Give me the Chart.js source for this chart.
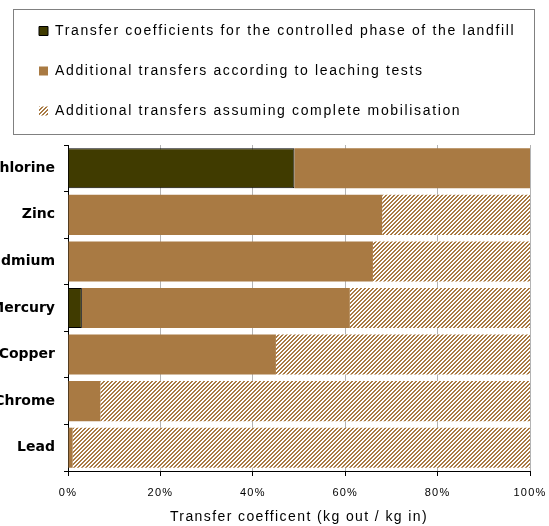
<!DOCTYPE html>
<html>
<head>
<meta charset="utf-8">
<script src="https://cdn.jsdelivr.net/npm/chart.js@4.4.0/dist/chart.umd.min.js"></script>
<style>
    html, body { margin: 0; padding: 0; background: #fff; }
    #frame { position: relative; width: 549px; height: 526px; overflow: hidden; }
    #wrap { position: absolute; left: -80px; top: 0; width: 629px; height: 526px; }
</style>
</head>
<body>
<div id="frame"><div id="wrap"><canvas id="transferChart"></canvas></div></div>
<script>
const elements = ['Chlorine', 'Zinc', 'Cadmium', 'Mercury', 'Copper', 'Chrome', 'Lead'];
const controlledPhase = [49, 0, 0, 3, 0, 0, 0];
const leachingTests = [51, 68, 66, 58, 45, 7, 1];
const completeMobilisation = [0, 32, 34, 39, 55, 93, 99];
const xTicks = [0, 20, 40, 60, 80, 100];

const seriesLabels = [
    'Transfer coefficients for the controlled phase of the landfill',
    'Additional transfers according to leaching tests',
    'Additional transfers assuming complete mobilisation'
];

const darkOlive = '#403b00';
const brown = '#a97a43';

// diagonal hatch like the old excel fill
function makeHatch() {
    const c = document.createElement('canvas');
    c.width = 4;
    c.height = 4;
    const g = c.getContext('2d');
    g.fillStyle = '#ffffff';
    g.fillRect(0, 0, 4, 4);
    g.fillStyle = brown;
    for (let y = 0; y < 4; y++) {
        for (let x = 0; x < 4; x++) {
            const k = (x + y) % 4;
            if (k === 0 || k === 1) g.fillRect(x, y, 1, 1);
        }
    }
    return g.createPattern(c, 'repeat');
}

// run a draw method with some letter spacing (the original text is wide)
function spaced(obj, name, spacing) {
    if (!obj || obj['_sp_' + name]) return;
    const orig = obj[name].bind(obj);
    obj[name] = function(...args) {
        const ctx = obj.ctx;
        const prev = ctx.letterSpacing;
        ctx.letterSpacing = spacing;
        orig(...args);
        ctx.letterSpacing = prev || '0px';
    };
    obj['_sp_' + name] = true;
}

const textTweaks = {
    id: 'textTweaks',
    beforeLayout(chart) {
        const l = chart.legend;
        if (l && !l._fitPatched) {
            const fit = l.fit.bind(l);
            l.fit = function() {
                fit();
                this.height = 147;
            };
            l._fitPatched = true;
        }
    },
    afterLayout(chart) {
        const y = chart.scales.y;
        // category names run off the left edge like in the original, don't clip them to the axis box
        y._computeLabelArea = () => ({ top: 0, left: 0, bottom: chart.height, right: y.right });
        spaced(chart.legend, 'draw', '1.65px');
        spaced(chart.scales.x, 'drawLabels', '1.2px');
        spaced(chart.scales.x, 'drawTitle', '1.4px');
    },
    afterDraw(chart) {
        const ctx = chart.ctx;
        const l = chart.legend;
        ctx.save();
        ctx.strokeStyle = '#808080';
        ctx.lineWidth = 1;
        ctx.strokeRect(l.left + 0.5, 9.5, 521, 125);
        ctx.restore();
    }
};

document.addEventListener('DOMContentLoaded', () => {
    const ctx = document.getElementById('transferChart').getContext('2d');
    const hatch = makeHatch();

    new Chart(ctx, {
        type: 'bar',
        data: {
            labels: elements,
            datasets: [{
                label: seriesLabels[0],
                data: controlledPhase,
                backgroundColor: darkOlive,
                borderColor: '#000000',
                borderWidth: 1,
                borderSkipped: 'start'
            }, {
                label: seriesLabels[1],
                data: leachingTests,
                backgroundColor: brown,
                borderWidth: 0
            }, {
                label: seriesLabels[2],
                data: completeMobilisation,
                backgroundColor: hatch,
                borderWidth: 0
            }]
        },
        options: {
            indexAxis: 'y',
            responsive: true,
            maintainAspectRatio: false,
            devicePixelRatio: 1,
            animation: false,
            layout: {
                padding: { left: 93, right: 19, top: -2, bottom: 0 }
            },
            datasets: {
                bar: {
                    barPercentage: 0.86,
                    categoryPercentage: 1
                }
            },
            plugins: {
                legend: {
                    display: true,
                    position: 'top',
                    align: 'start',
                    labels: {
                        color: '#000000',
                        boxWidth: 9,
                        boxHeight: 9,
                        padding: 26,
                        font: { family: 'Liberation Sans', size: 14 }
                    },
                    onClick: null
                },
                tooltip: { enabled: false }
            },
            scales: {
                x: {
                    stacked: true,
                    min: 0,
                    max: 100,
                    afterBuildTicks: (axis) => {
                        axis.ticks = xTicks.map(v => ({ value: v }));
                    },
                    afterFit: (axis) => {
                        axis.height = 55;
                        axis.paddingLeft = 10;
                        axis.paddingRight = 14;
                    },
                    grid: {
                        color: '#b4b4b4',
                        tickColor: '#000000',
                        tickLength: 5,
                        drawOnChartArea: true
                    },
                    border: { color: '#000000', width: 1 },
                    ticks: {
                        color: '#000000',
                        padding: 10,
                        maxRotation: 0,
                        autoSkip: false,
                        font: { family: 'Liberation Sans', size: 11 },
                        callback: (value) => value + '%'
                    },
                    title: {
                        display: true,
                        text: 'Transfer coefficent (kg out / kg in)',
                        color: '#000000',
                        padding: { top: 4, bottom: 0 },
                        font: { family: 'Liberation Sans', size: 14 }
                    }
                },
                y: {
                    stacked: true,
                    afterFit: (axis) => { axis.width = 55; },
                    grid: {
                        drawOnChartArea: false,
                        tickColor: '#000000',
                        tickLength: 4,
                        offset: true
                    },
                    border: { color: '#000000', width: 1 },
                    ticks: {
                        color: '#000000',
                        padding: 9,
                        font: { family: 'DejaVu Sans', size: 14, weight: 'bold' }
                    }
                }
            }
        },
        plugins: [textTweaks]
    });
});
</script>
</body>
</html>
